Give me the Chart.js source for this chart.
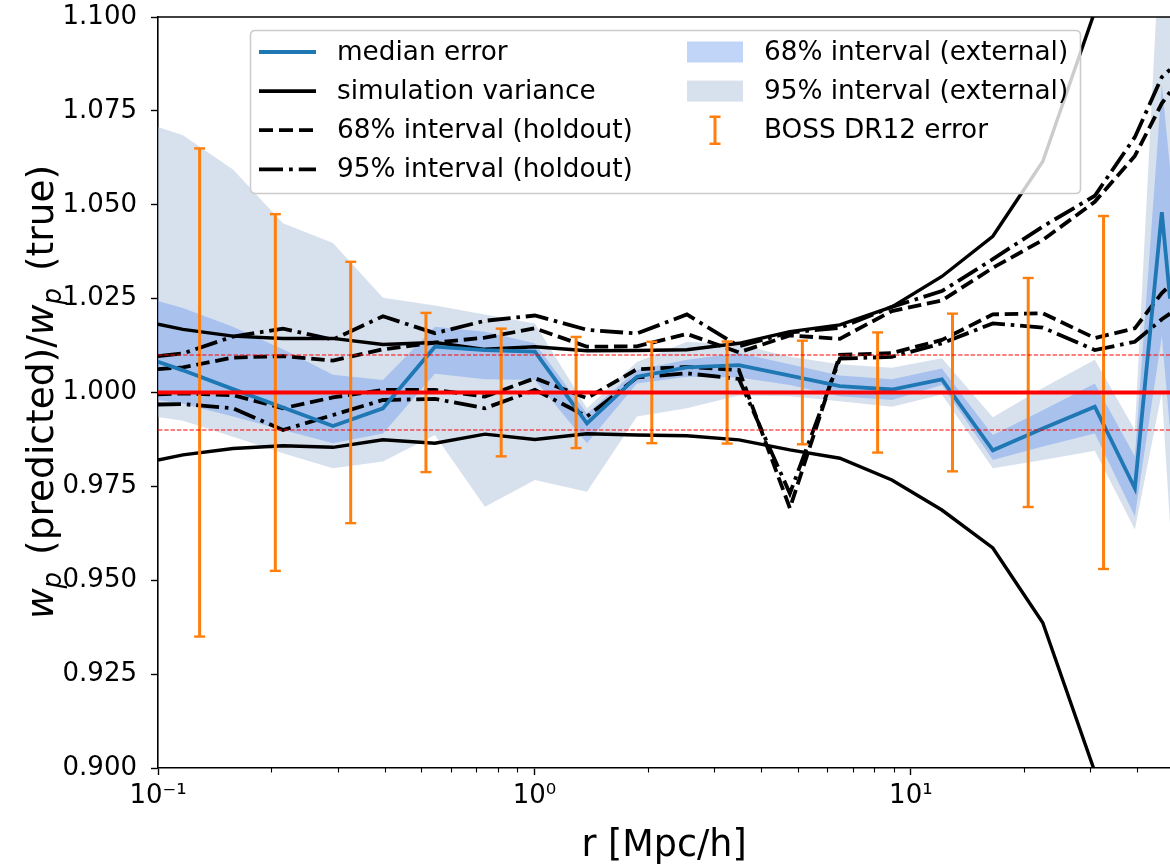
<!DOCTYPE html>
<html>
<head>
<meta charset="utf-8">
<script src="https://cdn.jsdelivr.net/npm/chart.js@4.4.1/dist/chart.umd.min.js"></script>
<style>
html, body { margin: 0; padding: 0; background: #fff; }
canvas { display: block; }
</style>
</head>
<body>
<canvas id="grafico" width="1170" height="865"></canvas>
<script>
// bins em r (Mpc/h)
const rBins = [0.1, 0.1165, 0.1582, 0.2148, 0.2916, 0.3959, 0.544, 0.7388, 1.003, 1.379, 1.872, 2.541,
               3.493, 4.771, 6.477, 8.904, 12.09, 16.51, 22.41, 30.81, 39.36, 46.42, 48.8];

// erro mediano e intervalos externos
const medianErr = [1.0082, 1.0059, 1.0009, 0.9960, 0.9911, 0.9958, 1.0122, 1.0113, 1.0109, 0.9918, 1.0042, 1.0067,
                   1.0073, 1.0045, 1.0017, 1.0008, 1.0035, 0.9846, 0.9904, 0.9962, 0.9745, 1.0480, 1.0250];
const ext68Hi = [1.0244, 1.0225, 1.0175, 1.0115, 1.0047, 1.0033, 1.0175, 1.0162, 1.0131, 0.9944, 1.0060, 1.0087,
                 1.0105, 1.0075, 1.0045, 1.0035, 1.0064, 0.9887, 0.9953, 1.0024, 0.9830, 1.0820, 1.0600];
const ext68Lo = [0.9980, 0.9970, 0.9936, 0.9900, 0.9865, 0.9891, 1.0050, 1.0035, 1.0033, 0.9865, 1.0024, 1.0042,
                 1.0040, 1.0020, 0.9990, 0.9980, 1.0020, 0.9820, 0.9856, 0.9891, 0.9670, 1.0150, 0.9900];
const ext95Hi = [1.0707, 1.0685, 1.0594, 1.0451, 1.0398, 1.0252, 1.0232, 1.0208, 1.0184, 0.9958, 1.0081, 1.0135,
                 1.0128, 1.0095, 1.0075, 1.0066, 1.0091, 0.9934, 1.0012, 1.0087, 0.9900, 1.1300, 1.1000];
const ext95Lo = [0.9935, 0.9925, 0.9882, 0.9838, 0.9798, 0.9816, 0.9887, 0.9696, 0.9767, 0.9736, 0.9936, 0.9958,
                 0.9992, 0.9990, 0.9977, 0.9962, 0.9995, 0.9798, 0.9820, 0.9845, 0.9635, 1.0000, 0.9650];

// variancia das simulacoes
const simHi = [1.0182, 1.0168, 1.0150, 1.0144, 1.0144, 1.0128, 1.0133, 1.0115, 1.0122, 1.0111, 1.0112, 1.0114,
               1.0131, 1.0162, 1.0180, 1.0228, 1.0309, 1.0416, 1.0615, 1.1015, null, null, null];
const simLo = [0.9820, 0.9834, 0.9851, 0.9858, 0.9854, 0.9874, 0.9865, 0.9889, 0.9875, 0.9890, 0.9887, 0.9885,
               0.9874, 0.9847, 0.9825, 0.9767, 0.9687, 0.9586, 0.9387, 0.8990, null, null, null];

// intervalos holdout
const hold68Hi = [1.0062, 1.0067, 1.0093, 1.0097, 1.0085, 1.0115, 1.0133, 1.0146, 1.0171, 1.0122, 1.0123, 1.0156,
                  1.0107, 1.0152, 1.0143, 1.0217, 1.0245, 1.0332, 1.0406, 1.0508, 1.0630, 1.0770, 1.0800];
const hold68Lo = [0.9995, 0.9998, 0.9993, 0.9958, 0.9987, 1.0007, 1.0007, 0.9989, 1.0038, 0.9985, 1.0062, 1.0068,
                  1.0060, 0.9692, 1.0100, 1.0105, 1.0140, 1.0208, 1.0211, 1.0145, 1.0171, 1.0265, 1.0285];
const hold95Hi = [1.0097, 1.0104, 1.0149, 1.0170, 1.0141, 1.0203, 1.0158, 1.0191, 1.0205, 1.0167, 1.0157, 1.0208,
                  1.0123, 1.0160, 1.0172, 1.0228, 1.0270, 1.0355, 1.0442, 1.0524, 1.0680, 1.0840, 1.0860];
const hold95Lo = [0.9968, 0.9969, 0.9958, 0.9900, 0.9940, 0.9980, 0.9983, 0.9958, 1.0007, 0.9936, 1.0040, 1.0051,
                  1.0036, 0.9731, 1.0090, 1.0095, 1.0131, 1.0184, 1.0173, 1.0113, 1.0135, 1.0195, 1.0210];

// erros do BOSS DR12
const bossR = [0.129, 0.205, 0.325, 0.515, 0.816, 1.29, 2.05, 3.25, 5.15, 8.16, 12.9, 20.5, 32.5];
const bossErr = [0.065, 0.0475, 0.0348, 0.0212, 0.0170, 0.0148, 0.0135, 0.0136, 0.0138, 0.0160, 0.0210, 0.0305, 0.0470];
const bossCentro = 1.0;

// linhas de referencia
const refX = [0.1, 48.8];
const refSolid = 1.0;
const refDashed = [1.01, 0.99];

// eixos
const xMin = 0.1, xMax = 48.8;
const xMajorTicks = [0.1, 1, 10];
const xTickLabels = ['10\u207B\u00B9', '10\u2070', '10\u00B9'];
const xMinorTicks = [0.2, 0.3, 0.4, 0.5, 0.6, 0.7, 0.8, 0.9, 2, 3, 4, 5, 6, 7, 8, 9, 20, 30, 40];
const yTicks = [0.900, 0.925, 0.950, 0.975, 1.000, 1.025, 1.050, 1.075, 1.100];

const AZUL = '#1f77b4';
const LARANJA = '#ff7f0e';
const BANDA68 = 'rgba(100, 149, 237, 0.40)';
const BANDA95 = 'rgba(176, 196, 222, 0.50)';
const TRACO = [13.5, 5.8];
const TRACO_PONTO = [23, 5.8, 3.6, 5.8];
const FONTE = 'DejaVu Sans';

function serie(ys) {
    return rBins.map((x, i) => ({ x: x, y: ys[i] }));
}

function barrasErro() {
    const pts = [];
    bossR.forEach((x, i) => {
        pts.push({ x: x, y: bossCentro - bossErr[i] });
        pts.push({ x: x, y: bossCentro + bossErr[i] });
        pts.push({ x: x, y: null });
    });
    return pts;
}

function linhaRef(nivel) {
    return refX.map(x => ({ x: x, y: nivel }));
}

function linha(dados, cor, largura, dash, ordem) {
    return {
        data: dados,
        borderColor: cor,
        borderWidth: largura,
        borderDash: dash,
        pointRadius: 0,
        fill: false,
        tension: 0,
        order: ordem
    };
}

const datasets = [
    { data: serie(ext95Hi), borderWidth: 0, pointRadius: 0, fill: { target: 1 }, backgroundColor: BANDA95, order: 60 },
    { data: serie(ext95Lo), borderWidth: 0, pointRadius: 0, fill: false, order: 61 },
    { data: serie(ext68Hi), borderWidth: 0, pointRadius: 0, fill: { target: 3 }, backgroundColor: BANDA68, order: 50 },
    { data: serie(ext68Lo), borderWidth: 0, pointRadius: 0, fill: false, order: 51 },
    linha(serie(simHi), '#000', 3.4, [], 40),
    linha(serie(simLo), '#000', 3.4, [], 40),
    linha(serie(hold68Hi), '#000', 3.8, TRACO, 30),
    linha(serie(hold68Lo), '#000', 3.8, TRACO, 30),
    linha(serie(hold95Hi), '#000', 3.8, TRACO_PONTO, 30),
    linha(serie(hold95Lo), '#000', 3.8, TRACO_PONTO, 30),
    linha(serie(medianErr), AZUL, 3.8, [], 20),
    {
        data: barrasErro(),
        borderColor: LARANJA,
        borderWidth: 3,
        pointStyle: 'line',
        pointRadius: 5.5,
        pointBorderWidth: 2.4,
        pointBorderColor: LARANJA,
        spanGaps: false,
        fill: false,
        order: 10
    },
    linha(linhaRef(refSolid), '#ff0000', 3.8, [], 5),
    linha(linhaRef(refDashed[0]), '#ff0000', 1.1, [4.4, 1.9], 5),
    linha(linhaRef(refDashed[1]), '#ff0000', 1.1, [4.4, 1.9], 5)
];

// itens da legenda (duas colunas, como no original)
const legendaItens = [
    { col: 0, row: 0, tipo: 'linha', cor: AZUL, largura: 4, dash: [], texto: 'median error' },
    { col: 0, row: 1, tipo: 'linha', cor: '#000', largura: 3.8, dash: [], texto: 'simulation variance' },
    { col: 0, row: 2, tipo: 'linha', cor: '#000', largura: 3.8, dash: [14, 6], texto: '68% interval (holdout)' },
    { col: 0, row: 3, tipo: 'linha', cor: '#000', largura: 3.8, dash: [24, 6, 3.8, 6], texto: '95% interval (holdout)' },
    { col: 1, row: 0, tipo: 'patch', cor: BANDA68, texto: '68% interval (external)' },
    { col: 1, row: 1, tipo: 'patch', cor: BANDA95, texto: '95% interval (external)' },
    { col: 1, row: 2, tipo: 'erro', cor: LARANJA, texto: 'BOSS DR12 error' }
];

function retanguloArredondado(ctx, x, y, w, h, r) {
    ctx.beginPath();
    ctx.moveTo(x + r, y);
    ctx.lineTo(x + w - r, y);
    ctx.quadraticCurveTo(x + w, y, x + w, y + r);
    ctx.lineTo(x + w, y + h - r);
    ctx.quadraticCurveTo(x + w, y + h, x + w - r, y + h);
    ctx.lineTo(x + r, y + h);
    ctx.quadraticCurveTo(x, y + h, x, y + h - r);
    ctx.lineTo(x, y + r);
    ctx.quadraticCurveTo(x, y, x + r, y);
    ctx.closePath();
}

const legendaPlugin = {
    id: 'legendaCaixa',
    afterDraw(chart) {
        const ctx = chart.ctx;
        ctx.save();
        retanguloArredondado(ctx, 250.5, 30.5, 830, 163, 5);
        ctx.fillStyle = 'rgba(255, 255, 255, 0.8)';
        ctx.fill();
        ctx.strokeStyle = '#cccccc';
        ctx.lineWidth = 1.6;
        ctx.stroke();

        const handleX = [259, 687];
        const textoX = [337, 764];
        ctx.font = '26.3px ' + FONTE;
        ctx.textBaseline = 'middle';
        ctx.textAlign = 'left';
        legendaItens.forEach(item => {
            const y = 52 + item.row * 39.1;
            const x0 = handleX[item.col];
            if (item.tipo === 'linha') {
                ctx.beginPath();
                ctx.setLineDash(item.dash);
                ctx.lineDashOffset = 0;
                ctx.strokeStyle = item.cor;
                ctx.lineWidth = item.largura;
                ctx.lineCap = 'butt';
                ctx.moveTo(x0, y);
                ctx.lineTo(x0 + 57, y);
                ctx.stroke();
                ctx.setLineDash([]);
            } else if (item.tipo === 'patch') {
                ctx.fillStyle = item.cor;
                ctx.fillRect(x0, y - 10.5, 56, 21);
            } else {
                const xc = x0 + 28;
                ctx.strokeStyle = item.cor;
                ctx.lineWidth = 3;
                ctx.beginPath();
                ctx.moveTo(xc, y - 13.5);
                ctx.lineTo(xc, y + 13.5);
                ctx.stroke();
                ctx.lineWidth = 2.4;
                ctx.beginPath();
                ctx.moveTo(xc - 5.5, y - 13.5); ctx.lineTo(xc + 5.5, y - 13.5);
                ctx.moveTo(xc - 5.5, y + 13.5); ctx.lineTo(xc + 5.5, y + 13.5);
                ctx.stroke();
            }
            ctx.fillStyle = '#000';
            ctx.fillText(item.texto, textoX[item.col], y + 1);
        });
        ctx.restore();
    }
};

const molduraPlugin = {
    id: 'moldura',
    afterDraw(chart) {
        const ctx = chart.ctx;
        const a = chart.chartArea;
        const sx = chart.scales.x;
        ctx.save();
        // borda superior
        ctx.strokeStyle = '#000';
        ctx.lineWidth = 1.6;
        ctx.beginPath();
        ctx.moveTo(a.left - 0.8, a.top);
        ctx.lineTo(a.right, a.top);
        ctx.stroke();
        // ticks menores do eixo log
        ctx.lineWidth = 1.1;
        xMinorTicks.forEach(v => {
            const px = Math.round(sx.getPixelForValue(v)) + 0.5;
            ctx.beginPath();
            ctx.moveTo(px, a.bottom);
            ctx.lineTo(px, a.bottom + 4.5);
            ctx.stroke();
        });

        // titulo do eixo x
        ctx.fillStyle = '#000';
        ctx.font = '36.5px ' + FONTE;
        ctx.textAlign = 'center';
        ctx.textBaseline = 'alphabetic';
        ctx.fillText('r [Mpc/h]', (a.left + a.right) / 2, 856);

        // titulo do eixo y com w_p em italico
        const partes = [
            { t: 'w', it: true }, { t: 'p', it: true, sub: true }, { t: ' (predicted)/' },
            { t: 'w', it: true }, { t: 'p', it: true, sub: true }, { t: ' (true)' }
        ];
        const fonte = p => (p.it ? 'italic ' : '') + (p.sub ? '26px ' : '37.5px ') + FONTE;
        let total = 0;
        partes.forEach(p => {
            ctx.font = fonte(p);
            p.w = ctx.measureText(p.t).width + (p.sub ? 5 : 0);
            total += p.w;
        });
        ctx.translate(53, 392);
        ctx.rotate(-Math.PI / 2);
        ctx.textAlign = 'left';
        let x = -total / 2;
        partes.forEach(p => {
            ctx.font = fonte(p);
            ctx.fillText(p.t, x, p.sub ? 7.5 : 0);
            x += p.w;
        });
        ctx.restore();
    }
};

// tira o espaco extra que o Chart.js reserva para os rotulos das pontas
function semPadding(scale) {
    scale.paddingTop = 0;
    scale.paddingBottom = 0;
    scale.paddingLeft = 0;
    scale.paddingRight = 0;
}

new Chart(document.getElementById('grafico'), {
    type: 'line',
    data: { datasets: datasets },
    options: {
        responsive: false,
        animation: false,
        events: [],
        layout: { autoPadding: false, padding: { top: 17, right: 0, left: 0, bottom: 0 } },
        plugins: {
            legend: { display: false },
            tooltip: { enabled: false }
        },
        scales: {
            x: {
                type: 'logarithmic',
                bounds: 'data',
                min: xMin,
                max: xMax,
                afterBuildTicks: scale => { scale.ticks = xMajorTicks.map(v => ({ value: v })); },
                afterFit: scale => { scale.height = 97; semPadding(scale); },
                ticks: {
                    autoSkip: false,
                    maxRotation: 0,
                    minRotation: 0,
                    padding: 6,
                    color: '#000',
                    font: { family: FONTE, size: 26 },
                    callback: (value, index) => xTickLabels[index]
                },
                grid: {
                    drawOnChartArea: false,
                    drawTicks: true,
                    tickLength: 7,
                    tickWidth: 1.4,
                    tickColor: '#000'
                },
                border: { display: true, color: '#000', width: 1.6 }
            },
            y: {
                type: 'linear',
                min: 0.9,
                max: 1.1,
                afterBuildTicks: scale => { scale.ticks = yTicks.map(v => ({ value: v })); },
                afterFit: scale => { scale.width = 158; semPadding(scale); },
                ticks: {
                    padding: 14,
                    color: '#000',
                    font: { family: FONTE, size: 26 },
                    callback: value => value.toFixed(3)
                },
                grid: {
                    drawOnChartArea: false,
                    drawTicks: true,
                    tickLength: 7,
                    tickWidth: 1.4,
                    tickColor: '#000'
                },
                border: { display: true, color: '#000', width: 1.6 }
            }
        }
    },
    plugins: [molduraPlugin, legendaPlugin]
});
</script>
</body>
</html>
